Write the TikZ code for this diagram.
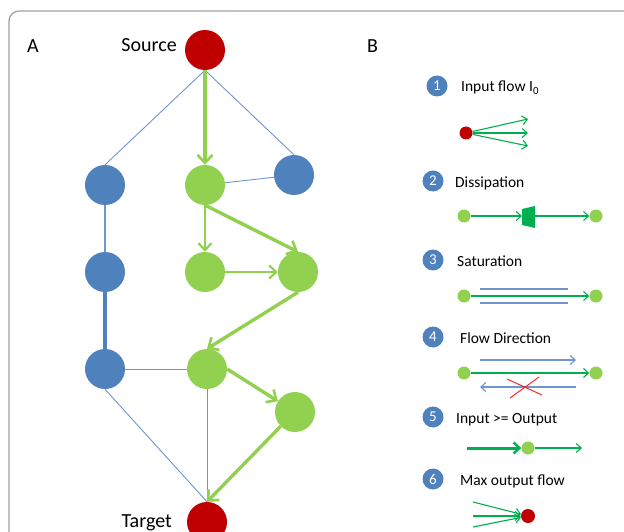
\documentclass[tikz,border=0pt]{standalone}
\usepackage{fontspec}
\setmainfont{Carlito}
\usetikzlibrary{arrows.meta}
\definecolor{cred}{HTML}{C00000}
\definecolor{cblue}{HTML}{4F81BD}
\definecolor{clblue}{HTML}{6F97CC}
\definecolor{cgreen}{HTML}{92D050}
\definecolor{cdgreen}{HTML}{00B050}
\definecolor{cframe}{HTML}{A0A0A0}
\tikzset{
  bignode/.style={circle,minimum size=40pt,inner sep=0pt,draw=none},
  rnode/.style={bignode,fill=cred},
  bnode/.style={bignode,fill=cblue},
  gnode/.style={bignode,fill=cgreen},
  bline/.style={draw=clblue,line width=0.9pt},
  garrow/.style={draw=cgreen,line width=3.4pt,-{Straight Barb[length=8pt,width=15pt,line width=2.6pt]}},
  garrowm/.style={draw=cgreen,line width=2.2pt,-{Straight Barb[length=7pt,width=13pt,line width=2.2pt]}},
  biglbl/.style={font=\fontsize{20}{22}\selectfont,inner sep=0pt},
  badge/.style={circle,fill=cblue,minimum size=21pt,inner sep=0pt,text=white,font=\fontsize{15}{16}\selectfont},
  itemlbl/.style={font=\fontsize{15.5}{17}\selectfont,inner sep=0pt,anchor=base west},
  sdot/.style={circle,minimum size=13pt,inner sep=0pt},
  sgdot/.style={sdot,fill=cgreen},
  srdot/.style={sdot,fill=cred},
  tarrow/.style={draw=cdgreen,line width=1.1pt,-{Straight Barb[length=5pt,width=9pt,line width=1.1pt]}},
  barrow/.style={draw=clblue,line width=1.1pt,-{Straight Barb[length=5pt,width=9pt,line width=1.1pt]}},
}
\begin{document}
\begin{tikzpicture}[x=1pt,y=-1pt]
\useasboundingbox (0,0) rectangle (624,532);
\fill[white] (0,0) rectangle (624,532);
% frame
\draw[cframe,line width=1.2pt,rounded corners=10pt] (640,11) -- (9,11) -- (9,545);

% panel A
\node[biglbl,anchor=base west] (la) at (27,53) {A};
\node[rnode] (src) at (205,50) {};
\node[biglbl,anchor=base east] (srcl) at (177,52) {Source};
\node[bnode] (b1) at (105,185) {};
\node[gnode] (g1) at (205,185) {};
\node[bnode] (br) at (294,175) {};
\node[bnode] (b2) at (105,272) {};
\node[gnode] (g2) at (205,272) {};
\node[gnode] (g3) at (298,272) {};
\node[bnode] (b3) at (105,369) {};
\node[gnode] (g4) at (207,369) {};
\node[gnode] (g5) at (295,412) {};
\node[rnode] (tgt) at (207,522) {};
\node[biglbl,anchor=base east] (tgtl) at (172,527) {Target};

\draw[bline] (src.south) -- (b1.north);
\draw[bline] (src.south) -- (br.north);
\draw[bline] (g1) -- (br);
\draw[bline,line width=1.6pt] (b1) -- (b2);
\draw[bline,line width=3.4pt,draw=cblue] (b2) -- (b3);
\draw[bline] (b3) -- (g4);
\draw[bline] (b3.south) -- (tgt.north);
\draw[bline] (g4.south) -- (tgt.north);

\draw[garrow] (src) -- (g1);
\draw[garrowm] (g1.south) -- (g2.north);
\draw[garrow] (g1.south) -- (g3.north);
\draw[garrowm] (g2) -- (g3);
\draw[garrow] (g3.south) -- (g4.north);
\draw[garrow] (g4.east) -- (g5);
\draw[garrow] (g5.south west) -- (tgt.north);

% panel B
\node[biglbl,anchor=base west] (lb) at (367,53) {B};

% 1
\node[badge] (n1) at (437,86) {1};
\node[itemlbl] (t1) at (461,92) {Input flow I\textsubscript{0}};
\node[srdot] (d1) at (466,133) {};
\coordinate (e1a) at (528,119);
\coordinate (e1b) at (528,133);
\coordinate (e1c) at (528,146);
\draw[tarrow] (d1) -- (e1a);
\draw[tarrow] (d1) -- (e1b);
\draw[tarrow] (d1) -- (e1c);

% 2
\node[badge] (n2) at (433,181) {2};
\node[itemlbl] (t2) at (455,187) {Dissipation};
\node[sgdot] (d2a) at (464,216) {};
\node[sgdot] (d2b) at (596,216) {};
\fill[cdgreen] (522,209) -- (535,206) -- (535,228) -- (522,225) -- cycle;
\coordinate (trl) at (522,216);
\coordinate (trr) at (535,216);
\draw[tarrow] (d2a) -- (trl);
\draw[tarrow] (trr) -- (d2b);

% 3
\node[badge] (n3) at (433,260) {3};
\node[itemlbl] (t3) at (457,266) {Saturation};
\node[sgdot] (d3a) at (464,296) {};
\node[sgdot] (d3b) at (596,296) {};
\coordinate (s3a) at (480,289);
\coordinate (s3b) at (568,289);
\coordinate (s3c) at (480,303);
\coordinate (s3d) at (568,303);
\draw[draw=clblue,line width=1.1pt] (s3a) -- (s3b);
\draw[draw=clblue,line width=1.1pt] (s3c) -- (s3d);
\draw[tarrow] (d3a) -- (d3b);

% 4
\node[badge] (n4) at (433,337) {4};
\node[itemlbl] (t4) at (460,343) {Flow Direction};
\node[sgdot] (d4a) at (464,373) {};
\node[sgdot] (d4b) at (596,373) {};
\coordinate (f4a) at (480,360);
\coordinate (f4b) at (576,360);
\coordinate (f4c) at (576,387);
\coordinate (f4d) at (480,387);
\draw[barrow] (f4a) -- (f4b);
\draw[tarrow] (d4a) -- (d4b);
\draw[barrow] (f4c) -- (f4d);
\coordinate (x1) at (507,379);
\coordinate (x2) at (542,395);
\coordinate (x3) at (539,377);
\coordinate (x4) at (510,398);
\draw[red!90!white,line width=0.9pt] (x1) -- (x2);
\draw[red!90!white,line width=0.9pt] (x3) -- (x4);

% 5
\node[badge] (n5) at (433,417) {5};
\node[itemlbl] (t5) at (456,423) {Input >= Output};
\node[sgdot] (d5) at (528,448) {};
\coordinate (i5) at (467,448);
\coordinate (o5) at (582,448);
\draw[draw=cdgreen,line width=3pt,-{Straight Barb[length=6pt,width=11pt,line width=2.4pt]}] (i5) -- (d5);
\draw[tarrow] (d5) -- (o5);

% 6
\node[badge] (n6) at (433,479) {6};
\node[itemlbl] (t6) at (460,485) {Max output flow};
\node[srdot,minimum size=14pt] (d6) at (528,516) {};
\coordinate (i6a) at (473,502);
\coordinate (i6b) at (473,516);
\coordinate (i6c) at (473,527);
\draw[tarrow] (i6a) -- (d6);
\draw[tarrow] (i6b) -- (d6);
\draw[tarrow] (i6c) -- (d6);
\end{tikzpicture}
\end{document}
